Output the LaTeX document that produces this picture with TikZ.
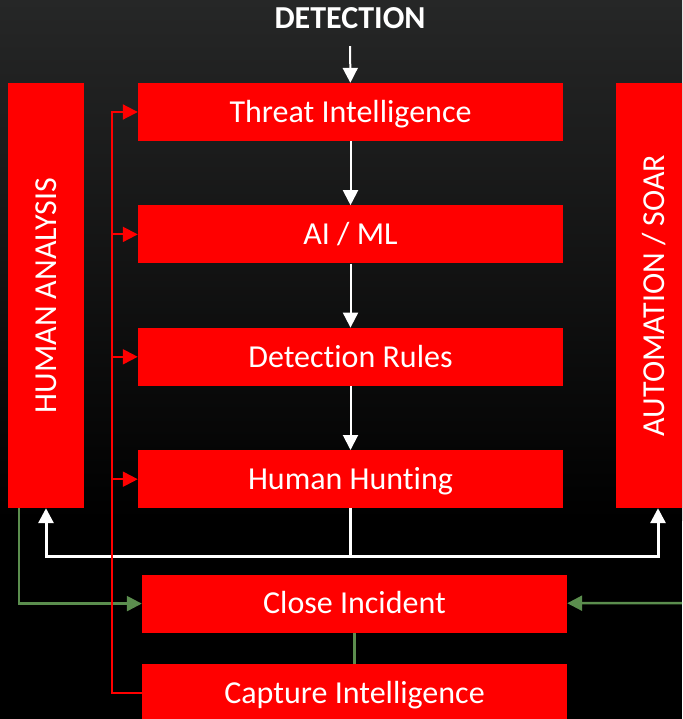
\documentclass[tikz,border=0pt]{standalone}
\usepackage{fontspec}
\setmainfont{Carlito}[Ligatures = NoCommon]
\usetikzlibrary{chains, arrows.meta, positioning}
\definecolor{socgrey}{HTML}{262727}
\definecolor{soclime}{HTML}{5B8E4E}

\begin{document}
\begin{tikzpicture}[x = 1pt, y = -1pt, font = \fontsize{32}{38}\selectfont,
    box/.style = {fill = red, text = white, inner sep = 0pt, minimum width = 425pt,
      minimum height = 58pt, text height = 20.5pt, text depth = 0pt},
    side/.style = {box, rotate = 90, minimum height = 76pt},
    link/.style = {-{Triangle[length = 15pt, width = 15pt]}},
    start chain = going below, node distance = 64pt]
 \clip (0,0) rectangle (682,719);
 \shade[top color = socgrey, bottom color = black] (0,0) rectangle (682,520);
 \fill[black] (0,520) rectangle (682,719);

 \node[text = white, font = \fontsize{32}{38}\selectfont\bfseries] (det) at (350,18) {DETECTION};

 \path node[box, on chain, at = {(350.5,112)}] (threat) {Threat Intelligence}
 node[box, on chain] (ai) {AI / ML}
 node[box, on chain] (rules) {Detection Rules}
 node[box, on chain] (hunt) {Human Hunting};

 \node[box, below = 66pt of hunt, xshift = 4pt] (close) {Close Incident};
 \node[box, below = 31pt of close] (cap) {Capture Intelligence};

 \node[side] (hum) at (46,295.5) {HUMAN ANALYSIS};
 \node[side] (soar) at (654,295.5) {AUTOMATION / SOAR};

 % detection flow
 \draw[link, white, line width = 2pt, shorten <= 14pt] (det) -- (threat);
 \foreach \a/\b in {threat/ai, ai/rules, rules/hunt}
   \draw[link, white, line width = 2pt] (\a) -- (\b);
 \draw[white, line width = 3pt] (hunt.south) -- ++(0,48) coordinate (fork);
 \draw[link, white, line width = 3pt] (fork) -| (hum.west);
 \draw[link, white, line width = 3pt] (fork) -| ([xshift = 4pt]soar.west);

 % closing
 \coordinate (rim) at (690,603);
 \draw[link, soclime, line width = 2.5pt] ([xshift = -27pt]hum.west) |- (close);
 \draw[link, soclime, line width = 2.5pt] (rim) -- (close);
 \draw[soclime, line width = 2.5pt] (close) -- (cap);

 % feedback
 \coordinate (rail) at (112,0);
 \draw[link, red, line width = 2pt] (cap.west) -| (rail |- threat) -- (threat);
 \foreach \n in {ai, rules, hunt}
   \draw[link, red, line width = 2pt] (rail |- \n) -- (\n);
\end{tikzpicture}
\end{document}
